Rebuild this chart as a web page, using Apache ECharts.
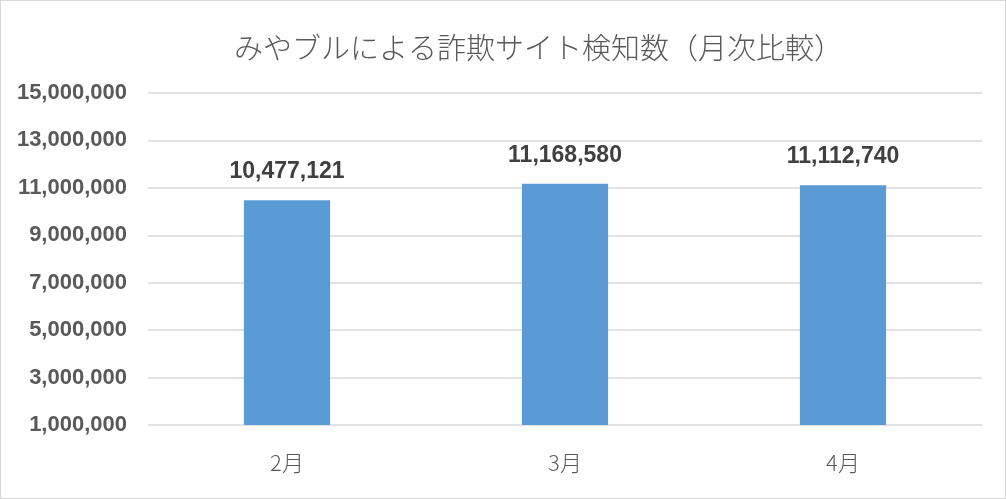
<!DOCTYPE html>
<html><head><meta charset="utf-8">
<script src="https://cdn.jsdelivr.net/npm/echarts@6/dist/echarts.min.js"></script>
<style>
html,body{margin:0;padding:0;background:#fff;}
#c{position:absolute;left:0;top:0;width:1004px;height:497px;border:1px solid #d9d9d9;}
</style></head><body>
<div id="c"></div>
<script>
const titleText = 'みやブルによる詐欺サイト検知数（月次比較）';
const categories = ['2月', '3月', '4月'];
const values = [10477121, 11168580, 11112740];
const yMin = 1000000, yMax = 15000000, yStep = 2000000;

const fmt = v => Number(v).toLocaleString('en-US');
const jfont = '"Noto Sans CJK JP", "Noto Sans", sans-serif';
const nfont = '"Liberation Sans", Arial, sans-serif';
const chart = echarts.init(document.getElementById('c'));
chart.setOption({
  animation: false,
  title: {
    text: titleText, left: 228, top: 27,
    textStyle: {fontFamily: jfont, fontSize: 29, fontWeight: 300, color: '#595959'}
  },
  grid: {left: 147, right: 23, top: 92, bottom: 73, containLabel: false},
  xAxis: {
    type: 'category', data: categories,
    axisLine: {show: false}, axisTick: {show: false},
    axisLabel: {fontFamily: jfont, fontSize: 22, fontWeight: 300, color: '#595959', margin: 27}
  },
  yAxis: {
    type: 'value', min: yMin, max: yMax, interval: yStep,
    axisLine: {show: false}, axisTick: {show: false},
    splitLine: {lineStyle: {color: '#d9d9d9', width: 1.5}},
    axisLabel: {fontFamily: nfont, fontSize: 22, fontWeight: 'bold', color: '#595959', margin: 21, formatter: fmt}
  },
  series: [{
    type: 'bar', data: values, barWidth: '31%',
    itemStyle: {color: '#5b9bd5'},
    label: {show: true, position: 'top', distance: 17, fontFamily: nfont, fontSize: 23, fontWeight: 'bold', color: '#404040', formatter: p => fmt(p.value)}
  }]
});
</script></body></html>
